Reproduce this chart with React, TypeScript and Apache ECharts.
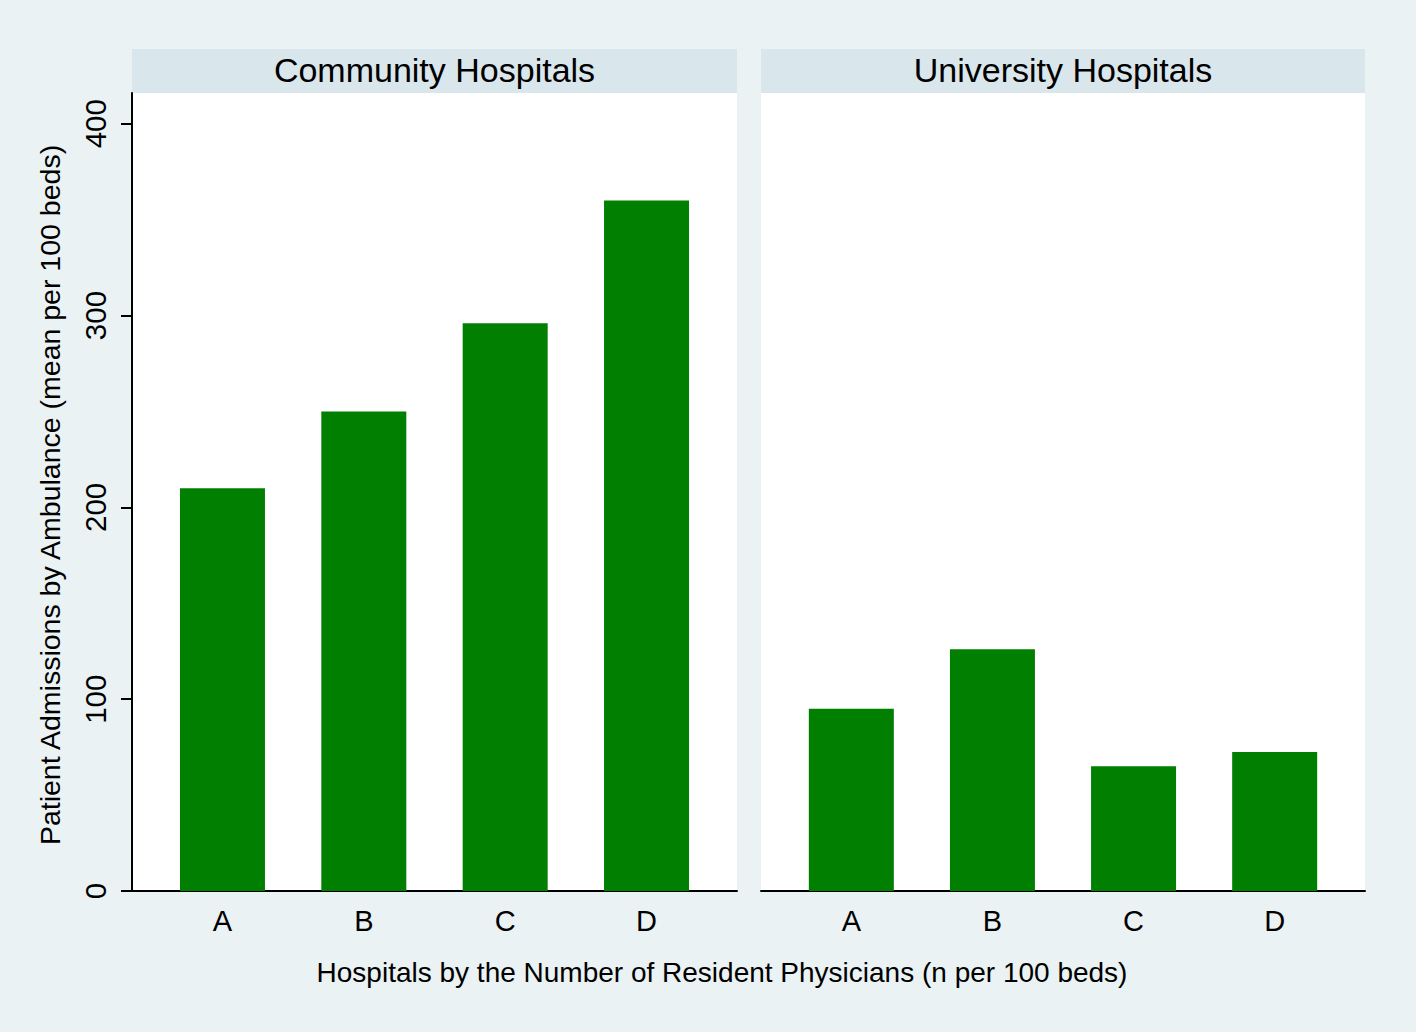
import React, { useEffect, useRef } from "react";
import * as echarts from "echarts";

const categories = ["A", "B", "C", "D"];
const community = [210, 250, 296, 360];
const university = [95, 126, 65, 72.5];
const yTicks = [0, 100, 200, 300, 400];
const panelTitles = ["Community Hospitals", "University Hospitals"];
const yTitle = "Patient Admissions by Ambulance (mean per 100 beds)";
const xTitle = "Hospitals by the Number of Resident Physicians (n per 100 beds)";

const FONT = "'Liberation Sans', Arial, sans-serif";
const GREEN = "#007f00";
const STRIP = "#d9e6eb";
const BG = "#eaf2f3";

export default function App() {
  const ref = useRef<HTMLDivElement>(null);
  useEffect(() => {
    document.body.style.margin = "0";
    const chart = echarts.init(ref.current!, null, { renderer: "svg" });
    const panels = [
      { left: 132, width: 605 },
      { left: 761, width: 604 },
    ];
    const top = 93;
    const height = 798;
    const xAxisCommon = (gi: number) => ({
      type: "value",
      gridIndex: gi,
      min: 0.36,
      max: 4.64,
      splitLine: { show: false },
      axisLine: { show: true, onZero: false, lineStyle: { color: "#000", width: 2 } },
      axisTick: { show: false },
      axisLabel: {
        customValues: [1, 2, 3, 4],
        formatter: (v: number) => categories[Math.round(v) - 1] ?? "",
        fontSize: 29,
        fontFamily: FONT,
        color: "#000",
        margin: 15,
      },
    });
    const option: any = {
      animation: false,
      backgroundColor: BG,
      grid: panels.map((p) => ({
        left: p.left,
        width: p.width,
        top,
        height,
        show: true,
        backgroundColor: "#fff",
        borderWidth: 0,
      })),
      xAxis: [xAxisCommon(0), xAxisCommon(1)],
      yAxis: [0, 1].map((gi) => ({
        type: "value",
        gridIndex: gi,
        min: 0,
        max: 416,
        splitLine: { show: false },
        axisLine: { show: gi === 0, lineStyle: { color: "#000", width: 2 } },
        axisTick: {
          show: gi === 0,
          customValues: yTicks,
          length: 11,
          lineStyle: { color: "#000", width: 2 },
        },
        axisLabel: {
          show: gi === 0,
          customValues: yTicks,
          rotate: 90,
          fontSize: 29.5,
          fontFamily: FONT,
          color: "#000",
          margin: 22,
        },
      })),
      series: [community, university].map((vals, gi) => ({
        type: "bar",
        xAxisIndex: gi,
        yAxisIndex: gi,
        barWidth: 85,
        itemStyle: { color: GREEN },
        data: categories.map((c, i) => [i + 1, vals[i]]),
      })),
      graphic: [
        ...panels.map((p, i) => ({
          type: "rect",
          shape: { x: p.left, y: 49, width: p.width, height: 44 },
          style: { fill: STRIP },
        })),
        ...panels.map((p, i) => ({
          type: "text",
          x: p.left + p.width / 2,
          y: 70,
          style: {
            text: panelTitles[i],
            fontSize: 34,
            fontFamily: FONT,
            fill: "#000",
            align: "center",
            verticalAlign: "middle",
          },
        })),
        {
          type: "text",
          x: 50,
          y: 495,
          rotation: Math.PI / 2,
          style: {
            text: yTitle,
            fontSize: 28.5,
            fontFamily: FONT,
            fill: "#000",
            align: "center",
            verticalAlign: "middle",
          },
        },
        {
          type: "text",
          x: 722,
          y: 972,
          style: {
            text: xTitle,
            fontSize: 28,
            fontFamily: FONT,
            fill: "#000",
            align: "center",
            verticalAlign: "middle",
          },
        },
      ],
    };
    chart.setOption(option);
    return () => chart.dispose();
  }, []);
  return (
    <div
      ref={ref}
      style={{ position: "absolute", left: 0, top: 0, width: 1416, height: 1032 }}
    />
  );
}
